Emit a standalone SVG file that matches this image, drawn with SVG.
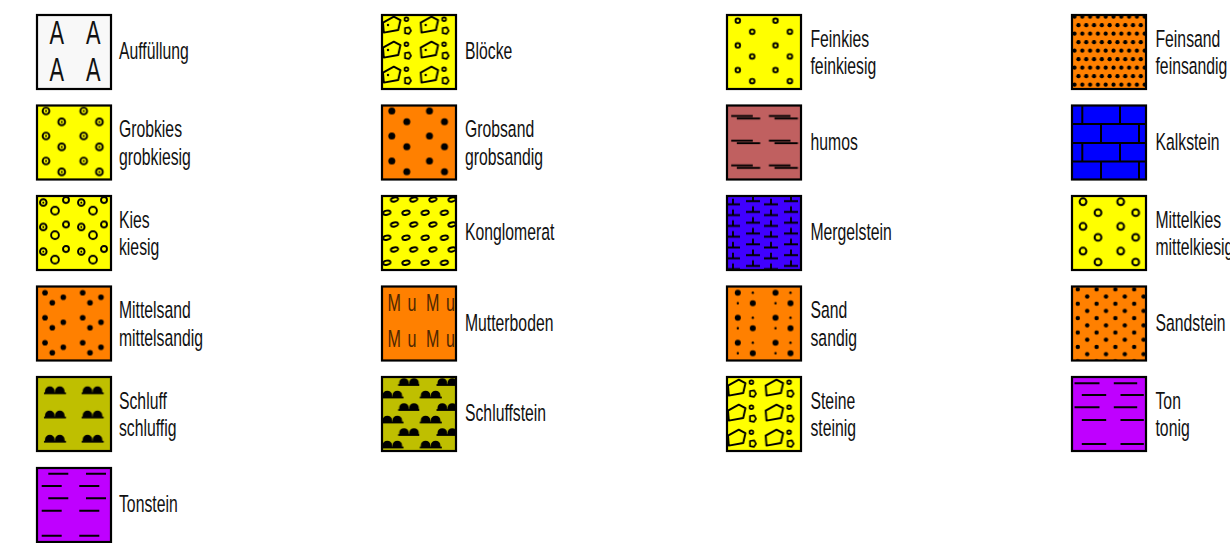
<svg xmlns="http://www.w3.org/2000/svg" width="1230" height="543" viewBox="0 0 1230 543">
<style>
.box{fill:none;stroke:#000;stroke-width:2.2}
.lbl{font-family:"Liberation Sans",Arial,sans-serif;font-size:23.5px;fill:#111}
.ln{stroke:#000;stroke-width:1.9;fill:none}
</style>
<defs>
<g id="bump"><path d="M0,0 v-2 a4.8,4.8 0 0 1 9.6,0 v2 z M10,0 v-2 a4.8,4.8 0 0 1 9.6,0 v2 z" fill="#000"/><line x1="-1" y1="0" x2="21" y2="0" stroke="#000" stroke-width="1.8"/></g>
<g id="penta"><path d="M2,8.6 L12.8,2.6 L19.4,6.2 L17.2,16 L2.8,18.6 Z" fill="none" stroke="#000" stroke-width="1.9" stroke-linejoin="round"/><circle cx="25.4" cy="5.3" r="1.9" fill="none" stroke="#000" stroke-width="1.7"/><path d="M24,14 L28.2,13.3 L30,16.8 L27.8,19.9 L24,19.2 Z" fill="none" stroke="#000" stroke-width="1.7" stroke-linejoin="round"/></g>
<pattern id="pGrobkies" patternUnits="userSpaceOnUse" width="37.7" height="25">
<rect width="37.7" height="25" fill="#ffff00"/>
<circle cx="10" cy="6.5" r="3.4" class="ln"/><circle cx="10" cy="6.5" r="1"/>
<circle cx="25.7" cy="17.4" r="3.4" class="ln"/><circle cx="25.7" cy="17.4" r="1"/>
</pattern>
<pattern id="pKies" patternUnits="userSpaceOnUse" width="38" height="24.5">
<rect width="38" height="24.5" fill="#ffff00"/>
<circle cx="7.3" cy="7.5" r="3.3" class="ln"/><circle cx="7.3" cy="7.5" r="1"/>
<circle cx="30" cy="5" r="3" class="ln"/>
<circle cx="19" cy="15.7" r="3.9" class="ln"/>
</pattern>
<pattern id="pMittelsand" patternUnits="userSpaceOnUse" width="37.7" height="25">
<rect width="37.7" height="25" fill="#ff8000"/>
<circle cx="9" cy="7.2" r="2.8"/><circle cx="16.3" cy="17.2" r="2.8"/><circle cx="27.3" cy="11.8" r="2.8"/>
</pattern>
<pattern id="pSchluff" patternUnits="userSpaceOnUse" width="37.7" height="24.2">
<rect width="37.7" height="24.2" fill="#bfbf00"/>
<use href="#bump" x="9" y="17.3"/>
</pattern>
<pattern id="pSchluffstein" patternUnits="userSpaceOnUse" width="38.3" height="25">
<rect width="38.3" height="25" fill="#bfbf00"/>
<use href="#bump" x="18.2" y="9"/>
<use href="#bump" x="1.5" y="21.5"/>
</pattern>
<pattern id="pBloecke" patternUnits="userSpaceOnUse" width="37.7" height="25">
<rect width="37.7" height="25" fill="#ffff00"/>
<use href="#penta"/><circle cx="7" cy="11" r="1.2"/>
</pattern>
<pattern id="pSteine" patternUnits="userSpaceOnUse" width="37.7" height="25">
<rect width="37.7" height="25" fill="#ffff00"/>
<use href="#penta" y="1"/>
</pattern>
<pattern id="pGrobsand" patternUnits="userSpaceOnUse" width="37.7" height="25">
<rect width="37.7" height="25" fill="#ff8000"/>
<circle cx="10.8" cy="6.5" r="3.5"/><circle cx="25.8" cy="17.2" r="3.5"/>
</pattern>
<pattern id="pKonglo" patternUnits="userSpaceOnUse" width="19.2" height="25">
<rect width="19.2" height="25" fill="#ffff00"/>
<ellipse cx="13.5" cy="4.5" rx="3.7" ry="2.1" transform="rotate(-12 13.5 4.5)" class="ln"/>
<ellipse cx="5.8" cy="17.7" rx="3.7" ry="2.1" transform="rotate(-12 5.8 17.7)" class="ln"/>
</pattern>
<pattern id="pFeinkies" patternUnits="userSpaceOnUse" width="37.7" height="24.7">
<rect width="37.7" height="24.7" fill="#ffff00"/>
<circle cx="11.8" cy="6.7" r="2.3" class="ln"/><circle cx="26.2" cy="17.7" r="2.3" class="ln"/>
</pattern>
<pattern id="pMittelkies" patternUnits="userSpaceOnUse" width="37.7" height="24.7">
<rect width="37.7" height="24.7" fill="#ffff00"/>
<circle cx="12" cy="6.7" r="3.4" fill="none" stroke="#000" stroke-width="2"/><circle cx="27" cy="17.7" r="3.4" fill="none" stroke="#000" stroke-width="2"/>
</pattern>
<pattern id="pHumos" patternUnits="userSpaceOnUse" width="37.7" height="24.7">
<rect width="37.7" height="24.7" fill="#c06060"/>
<line x1="5.2" y1="11.5" x2="26.8" y2="11.5" class="ln"/><line x1="10.8" y1="14" x2="34.2" y2="14" class="ln"/>
</pattern>
<pattern id="pMergel" patternUnits="userSpaceOnUse" width="38" height="10.8">
<rect width="38" height="10.8" fill="#4000ff"/>
<path d="M0,9.4 H14 M7,9.4 V3.6 M20,6.2 H34 M27,6.2 V0.4" class="ln"/>
</pattern>
<pattern id="pSand" patternUnits="userSpaceOnUse" width="37.7" height="25">
<rect width="37.7" height="25" fill="#ff8000"/>
<circle cx="11.8" cy="7.2" r="3"/><circle cx="26.8" cy="17.8" r="3"/>
<circle cx="26.8" cy="7.2" r="1.2"/><circle cx="11.8" cy="17.8" r="1.2"/>
</pattern>
<pattern id="pFeinsand" patternUnits="userSpaceOnUse" width="7.8" height="17">
<rect width="7.8" height="17" fill="#ff8000"/>
<circle cx="3.5" cy="2.7" r="2.1"/><circle cx="7.4" cy="11.2" r="2.1"/><circle cx="-0.4" cy="11.2" r="2.1"/>
</pattern>
<pattern id="pSandstein" patternUnits="userSpaceOnUse" width="18.8" height="14.4">
<rect width="18.8" height="14.4" fill="#ff8000"/>
<circle cx="6.8" cy="3.8" r="2.2"/><circle cx="16.2" cy="11" r="2.2"/>
</pattern>
</defs>

<!-- Column 1 -->
<g id="n-auffuellung" transform="translate(36,14)">
<rect x="1" y="1" width="74" height="74" fill="#f8f8f8"/>
<g style="font-family:'Liberation Sans',Arial,sans-serif;font-size:33px" fill="#111" text-anchor="middle">
<text transform="translate(20.7,30) scale(0.66 1)">A</text>
<text transform="translate(57.3,30) scale(0.66 1)">A</text>
<text transform="translate(20.7,66.5) scale(0.66 1)">A</text>
<text transform="translate(57.3,66.5) scale(0.66 1)">A</text>
</g>
<rect class="box" x="1" y="1" width="74" height="74"/>
<text class="lbl" transform="translate(83,45) scale(0.67 1)">Auffüllung</text>
</g>
<g id="n-grobkies" transform="translate(36,104.5)">
<rect x="1" y="1" width="74" height="74" fill="url(#pGrobkies)"/>
<rect class="box" x="1" y="1" width="74" height="74"/>
<text class="lbl" transform="translate(83,32.5) scale(0.67 1)">Grobkies</text>
<text class="lbl" transform="translate(83,60) scale(0.67 1)">grobkiesig</text>
</g>
<g id="n-kies" transform="translate(36,195)">
<rect x="1" y="1" width="74" height="74" fill="url(#pKies)"/>
<rect class="box" x="1" y="1" width="74" height="74"/>
<text class="lbl" transform="translate(83,32.5) scale(0.67 1)">Kies</text>
<text class="lbl" transform="translate(83,60) scale(0.67 1)">kiesig</text>
</g>
<g id="n-mittelsand" transform="translate(36,285.5)">
<rect x="1" y="1" width="74" height="74" fill="url(#pMittelsand)"/>
<rect class="box" x="1" y="1" width="74" height="74"/>
<text class="lbl" transform="translate(83,32.5) scale(0.67 1)">Mittelsand</text>
<text class="lbl" transform="translate(83,60) scale(0.67 1)">mittelsandig</text>
</g>
<g id="n-schluff" transform="translate(36,376)">
<rect x="1" y="1" width="74" height="74" fill="url(#pSchluff)"/>
<rect class="box" x="1" y="1" width="74" height="74"/>
<text class="lbl" transform="translate(83,32.5) scale(0.67 1)">Schluff</text>
<text class="lbl" transform="translate(83,60) scale(0.67 1)">schluffig</text>
</g>
<g id="n-tonstein" transform="translate(36,467)">
<rect x="1" y="1" width="74" height="74" fill="#bf00ff"/>
<path class="ln" d="M12.3,6.7 H32.3 M50,6.7 H70 M5.7,19 H25.7 M43.3,19 H63.3 M12.3,31.3 H32.3 M50,31.3 H70 M5.7,43.7 H25.7 M43.3,43.7 H63.3 M5.7,68.7 H25.7 M43.3,68.7 H63.3"/>
<rect class="box" x="1" y="1" width="74" height="74"/>
<text class="lbl" transform="translate(83,45) scale(0.67 1)">Tonstein</text>
</g>

<!-- Column 2 -->
<g id="n-bloecke" transform="translate(381,14)">
<rect x="1" y="1" width="74" height="74" fill="url(#pBloecke)"/>
<rect class="box" x="1" y="1" width="74" height="74"/>
<text class="lbl" transform="translate(84,45) scale(0.67 1)">Blöcke</text>
</g>
<g id="n-grobsand" transform="translate(381,104.5)">
<rect x="1" y="1" width="74" height="74" fill="url(#pGrobsand)"/>
<rect class="box" x="1" y="1" width="74" height="74"/>
<text class="lbl" transform="translate(84,32.5) scale(0.67 1)">Grobsand</text>
<text class="lbl" transform="translate(84,60) scale(0.67 1)">grobsandig</text>
</g>
<g id="n-konglomerat" transform="translate(381,195)">
<rect x="1" y="1" width="74" height="74" fill="url(#pKonglo)"/>
<rect class="box" x="1" y="1" width="74" height="74"/>
<text class="lbl" transform="translate(84,45) scale(0.67 1)">Konglomerat</text>
</g>
<g id="n-mutterboden" transform="translate(381,285.5)">
<rect x="1" y="1" width="74" height="74" fill="#ff8000"/>
<g style="font-family:'Liberation Sans',Arial,sans-serif;font-size:23px" fill="#4d2600">
<text transform="translate(6.5,25) scale(0.7 1)">M</text>
<text transform="translate(26.5,25) scale(0.7 1)">u</text>
<text transform="translate(45,25) scale(0.7 1)">M</text>
<text transform="translate(65,25) scale(0.7 1)">u</text>
<text transform="translate(6.5,61.5) scale(0.7 1)">M</text>
<text transform="translate(26.5,61.5) scale(0.7 1)">u</text>
<text transform="translate(45,61.5) scale(0.7 1)">M</text>
<text transform="translate(65,61.5) scale(0.7 1)">u</text>
</g>
<rect class="box" x="1" y="1" width="74" height="74"/>
<text class="lbl" transform="translate(84,45) scale(0.67 1)">Mutterboden</text>
</g>
<g id="n-schluffstein" transform="translate(381,376)">
<rect x="1" y="1" width="74" height="74" fill="url(#pSchluffstein)"/>
<rect class="box" x="1" y="1" width="74" height="74"/>
<text class="lbl" transform="translate(84,45) scale(0.67 1)">Schluffstein</text>
</g>

<!-- Column 3 -->
<g id="n-feinkies" transform="translate(726,14)">
<rect x="1" y="1" width="74" height="74" fill="url(#pFeinkies)"/>
<rect class="box" x="1" y="1" width="74" height="74"/>
<text class="lbl" transform="translate(84.5,32.5) scale(0.67 1)">Feinkies</text>
<text class="lbl" transform="translate(84.5,60) scale(0.67 1)">feinkiesig</text>
</g>
<g id="n-humos" transform="translate(726,104.5)">
<rect x="1" y="1" width="74" height="74" fill="url(#pHumos)"/>
<rect class="box" x="1" y="1" width="74" height="74"/>
<text class="lbl" transform="translate(84.5,45) scale(0.67 1)">humos</text>
</g>
<g id="n-mergelstein" transform="translate(726,195)">
<rect x="1" y="1" width="74" height="74" fill="url(#pMergel)"/>
<rect class="box" x="1" y="1" width="74" height="74"/>
<text class="lbl" transform="translate(84.5,45) scale(0.67 1)">Mergelstein</text>
</g>
<g id="n-sand" transform="translate(726,285.5)">
<rect x="1" y="1" width="74" height="74" fill="url(#pSand)"/>
<rect class="box" x="1" y="1" width="74" height="74"/>
<text class="lbl" transform="translate(84.5,32.5) scale(0.67 1)">Sand</text>
<text class="lbl" transform="translate(84.5,60) scale(0.67 1)">sandig</text>
</g>
<g id="n-steine" transform="translate(726,376)">
<rect x="1" y="1" width="74" height="74" fill="url(#pSteine)"/>
<rect class="box" x="1" y="1" width="74" height="74"/>
<text class="lbl" transform="translate(84.5,32.5) scale(0.67 1)">Steine</text>
<text class="lbl" transform="translate(84.5,60) scale(0.67 1)">steinig</text>
</g>

<!-- Column 4 -->
<g id="n-feinsand" transform="translate(1071,14)">
<rect x="1" y="1" width="74" height="74" fill="url(#pFeinsand)"/>
<rect class="box" x="1" y="1" width="74" height="74"/>
<text class="lbl" transform="translate(84.5,32.5) scale(0.67 1)">Feinsand</text>
<text class="lbl" transform="translate(84.5,60) scale(0.67 1)">feinsandig</text>
</g>
<g id="n-kalkstein" transform="translate(1071,104.5)">
<rect x="1" y="1" width="74" height="74" fill="#0000ff"/>
<path d="M1,19.5 H75 M1,38.5 H75 M1,57 H75 M11.3,1 V19.5 M49,1 V19.5 M30,19.5 V38.5 M68,19.5 V38.5 M11.3,38.5 V57 M49,38.5 V57 M30,57 V75 M68,57 V75" stroke="#000" stroke-width="2" fill="none"/>
<rect class="box" x="1" y="1" width="74" height="74"/>
<text class="lbl" transform="translate(84.5,45) scale(0.67 1)">Kalkstein</text>
</g>
<g id="n-mittelkies" transform="translate(1071,195)">
<rect x="1" y="1" width="74" height="74" fill="url(#pMittelkies)"/>
<rect class="box" x="1" y="1" width="74" height="74"/>
<text class="lbl" transform="translate(84.5,32.5) scale(0.67 1)">Mittelkies</text>
<text class="lbl" transform="translate(84.5,60) scale(0.67 1)">mittelkiesig</text>
</g>
<g id="n-sandstein" transform="translate(1071,285.5)">
<rect x="1" y="1" width="74" height="74" fill="url(#pSandstein)"/>
<rect class="box" x="1" y="1" width="74" height="74"/>
<text class="lbl" transform="translate(84.5,45) scale(0.67 1)">Sandstein</text>
</g>
<g id="n-ton" transform="translate(1071,376)">
<rect x="1" y="1" width="74" height="74" fill="#bf00ff"/>
<path class="ln" d="M3.5,7.3 H28.5 M42.8,7.3 H66.2 M10.8,19 H35.2 M49.5,19 H72.8 M3.5,31.3 H28.5 M42.8,31.3 H66.2 M10.8,44 H35.2 M49.5,44 H72.8 M10.8,68 H35.2 M49.5,68 H72.8"/>
<rect class="box" x="1" y="1" width="74" height="74"/>
<text class="lbl" transform="translate(84.5,32.5) scale(0.67 1)">Ton</text>
<text class="lbl" transform="translate(84.5,60) scale(0.67 1)">tonig</text>
</g>
<g id="connectors"></g>
</svg>
